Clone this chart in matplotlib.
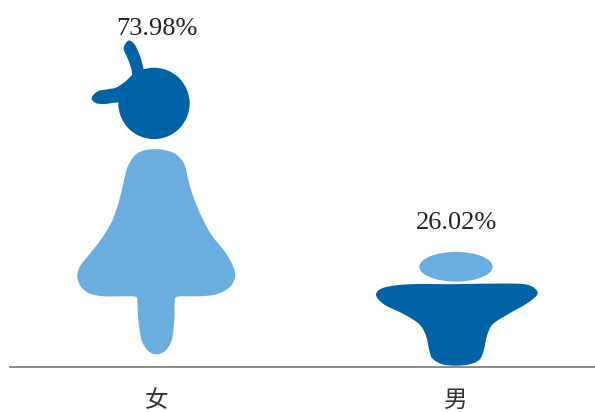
import numpy as np
import matplotlib
matplotlib.use("Agg")
import matplotlib.pyplot as plt
from matplotlib.path import Path
from matplotlib.patches import PathPatch, Ellipse

categories = ["女", "男"]
values = [73.98, 26.02]
labels = ["73.98%", "26.02%"]

DARK = "#0063a5"
LIGHT = "#6cade0"

# outlines traced from the icons, x from the icon centre, y up from the feet
woman_body = [(-6, 653), (49, 642), (81, 610), (94, 560), (109, 510), (134, 450), (164, 395),
              (204, 345), (229, 300), (234, 270), (219, 240), (179, 218), (129, 212), (89, 212),
              (59, 210), (53, 195), (52, 140), (44, 80), (24, 48), (-1, 38), (-26, 48), (-46, 80),
              (-56, 140), (-59, 195), (-63, 210), (-91, 212), (-161, 212), (-206, 222), (-231, 245),
              (-239, 275), (-229, 305), (-201, 340), (-166, 385), (-136, 435), (-116, 490),
              (-101, 550), (-86, 605), (-56, 642)]
woman_bow_up = [(-86, 978), (-68, 968), (-52, 935), (-42, 900), (-36, 860), (-70, 850), (-76, 890),
                (-88, 925), (-100, 955)]
woman_bow_left = [(-196, 807), (-178, 826), (-150, 832), (-121, 838), (-80, 860), (-90, 800), (-130, 792),
                  (-161, 788), (-186, 792)]
woman_head = (-9, 790, 107, 107)
woman_height = 980

man_body = [(-240, 220), (-215, 242), (-135, 252), (0, 252), (135, 254), (215, 250), (245, 225),
            (215, 195), (155, 160), (110, 130), (93, 95), (83, 50), (70, 22), (40, 8), (0, 4), (-40, 8),
            (-70, 25), (-80, 50), (-90, 95), (-110, 130), (-155, 160), (-215, 190)]
man_head = (0, 305, 110, 45)
man_height = 350


def smooth_path(points, cx, sx, sy):
    # closed catmull-rom outline turned into bezier segments
    pts = np.array(points, dtype=float) * [sx, sy] + [cx, 0]
    n = len(pts)
    verts = [pts[0]]
    codes = [Path.MOVETO]
    for i in range(n):
        p0, p1, p2, p3 = pts[i - 1], pts[i], pts[(i + 1) % n], pts[(i + 2) % n]
        verts += [p1 + (p2 - p0) / 6, p2 - (p3 - p1) / 6, p2]
        codes += [Path.CURVE4] * 3
    return Path(verts, codes)


fig = plt.figure(figsize=(5.95, 4.12), dpi=100)
ax = fig.add_axes([10 / 595, 45 / 412, 585 / 595, 367 / 412])
ax.set_xlim(-147 / 299, 438 / 299)
ax.set_ylim(0, 367 / 4.42)

sx = 1 / 3 / 299  # icon width stays fixed, only height follows the value

# woman
sy = values[0] / woman_height
for outline, color in [(woman_body, LIGHT), (woman_bow_up, DARK), (woman_bow_left, DARK)]:
    ax.add_patch(PathPatch(smooth_path(outline, 0, sx, sy), fc=color, ec="none"))
hx, hy, rx, ry = woman_head
ax.add_patch(Ellipse((hx * sx, hy * sy), 2 * rx * sx, 2 * ry * sy, fc=DARK, ec="none"))

# man
sy = values[1] / man_height
ax.add_patch(PathPatch(smooth_path(man_body, 1, sx, sy), fc=DARK, ec="none"))
hx, hy, rx, ry = man_head
ax.add_patch(Ellipse((1 + hx * sx, hy * sy), 2 * rx * sx, 2 * ry * sy, fc=LIGHT, ec="none"))

# value labels
for x, v, lab, off in zip(range(2), values, labels, [0, 13]):
    ax.annotate(lab, (x, v), xytext=(0, off), textcoords="offset points", ha="center", va="bottom",
                fontsize=19, family="Liberation Serif", color="#222222", annotation_clip=False)

ax.set_xticks(range(2))
ax.set_xticklabels(categories, family=["Noto Sans CJK SC", "DejaVu Sans"], fontsize=17, color="#333333")
ax.tick_params(axis="x", length=0, pad=16)
ax.set_yticks([])
for s in ["top", "left", "right"]:
    ax.spines[s].set_visible(False)
ax.spines["bottom"].set_color("#808080")
ax.spines["bottom"].set_linewidth(1.3)

fig.savefig("out.png", dpi=100)
